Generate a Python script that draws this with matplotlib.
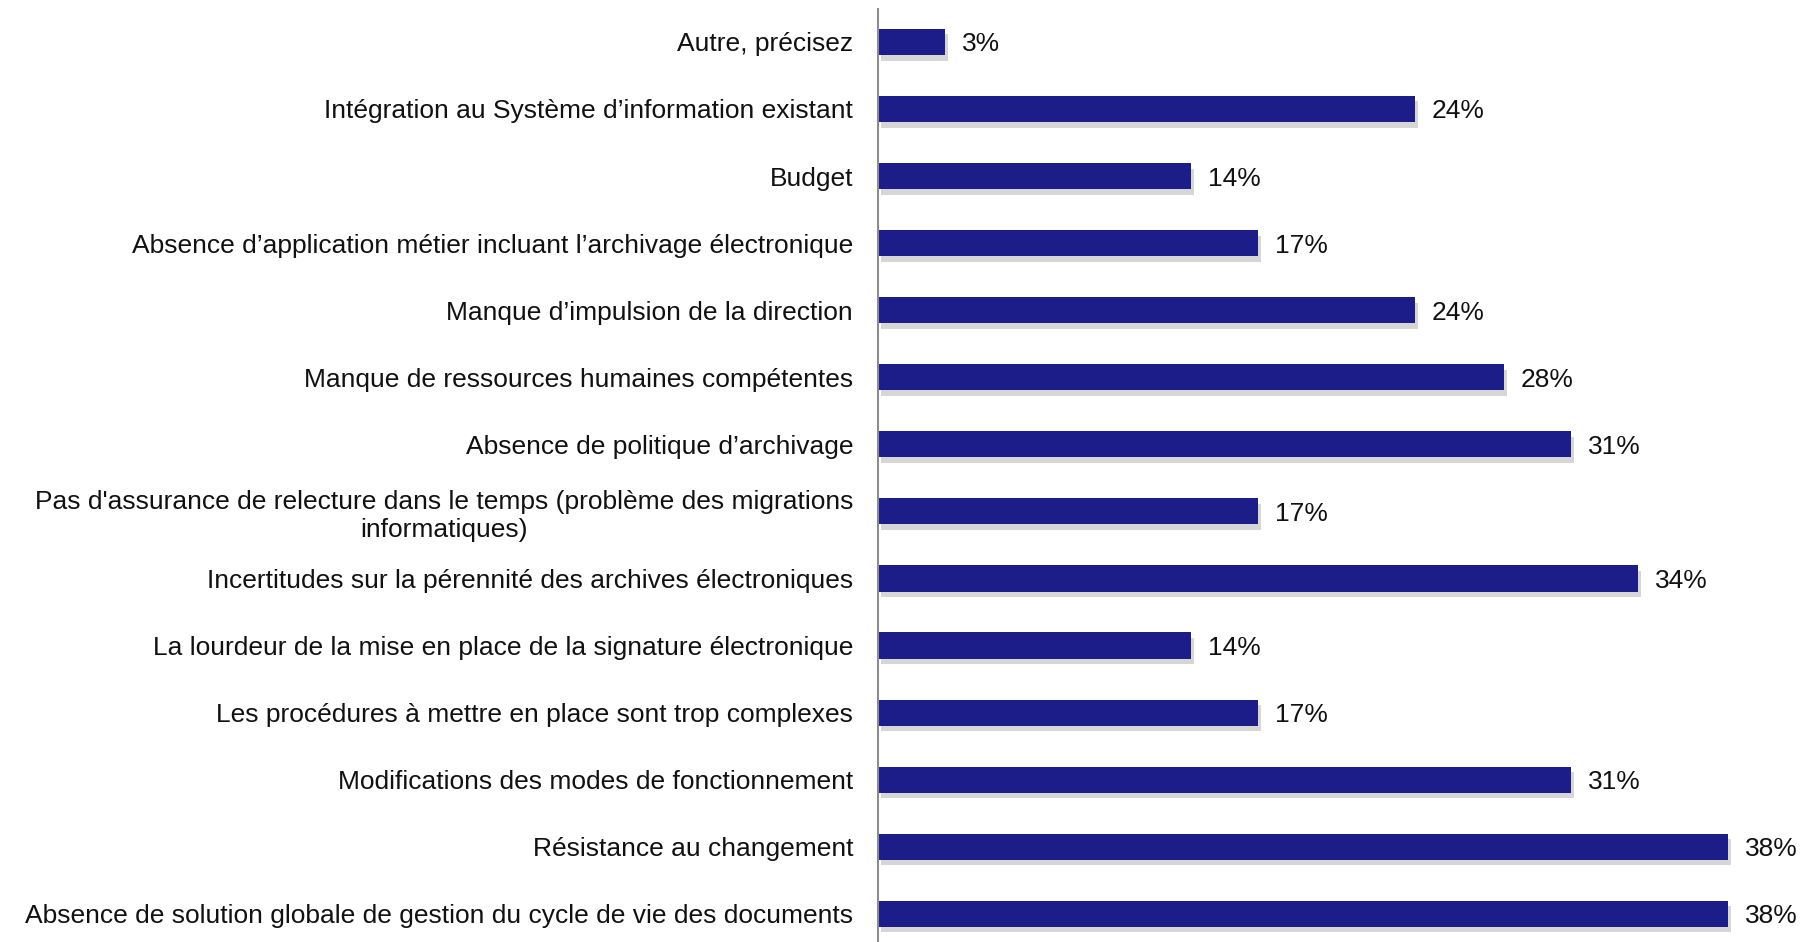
import matplotlib.pyplot as plt
import matplotlib.patheffects as pe

plt.rcParams['font.family'] = ['Liberation Sans', 'DejaVu Sans']

# categories from bottom to top
categories = [
    "Absence de solution globale de gestion du cycle de vie des documents",
    "Résistance au changement",
    "Modifications des modes de fonctionnement",
    "Les procédures à mettre en place sont trop complexes",
    "La lourdeur de la mise en place de la signature électronique",
    "Incertitudes sur la pérennité des archives électroniques",
    "Pas d'assurance de relecture dans le temps (problème des migrations\ninformatiques)",
    "Absence de politique d’archivage",
    "Manque de ressources humaines compétentes",
    "Manque d’impulsion de la direction",
    "Absence d’application métier incluant l’archivage électronique",
    "Budget",
    "Intégration au Système d’information existant",
    "Autre, précisez",
]
values = [38, 38, 31, 17, 14, 34, 17, 31, 28, 24, 17, 14, 24, 3]

fig = plt.figure(figsize=(18.07, 9.42), dpi=100)
ax = fig.add_axes([0.4859, 0.0, 0.5, 0.9904])

pos = list(range(len(categories)))
bars = ax.barh(pos, values, height=0.39, color='#1d1d8a')
for b in bars:
    b.set_path_effects([pe.SimplePatchShadow(offset=(2, -4), shadow_rgbFace='#999999', alpha=0.4),
                        pe.Normal()])

for p, v in zip(pos, values):
    ax.text(v + 0.75, p, f"{v}%", va='center_baseline', ha='left', fontsize=19, color='#111111')

ax.set_yticks(pos)
ax.set_yticklabels(categories, fontsize=19, color='#111111', multialignment='center')
ax.tick_params(axis='y', length=0, pad=18)
ax.set_xticks([])
ax.set_xlim(0, 40.4)
ax.set_ylim(-0.42, len(categories) - 0.51)

for s in ['top', 'right', 'bottom']:
    ax.spines[s].set_visible(False)
ax.spines['left'].set_color('#8c8c8c')
ax.spines['left'].set_linewidth(1.5)

fig.savefig('out.png', dpi=100)
